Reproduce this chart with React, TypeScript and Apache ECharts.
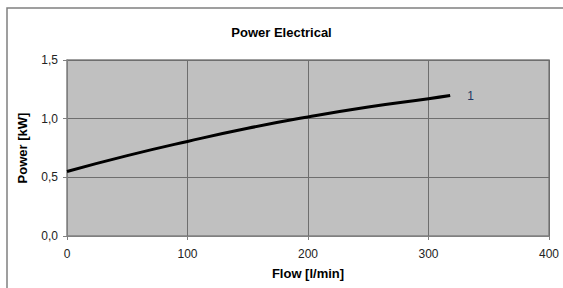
import React, { useEffect, useRef } from "react";
import * as echarts from "echarts";

const title = "Power Electrical";
const xName = "Flow [l/min]";
const yName = "Power [kW]";
const seriesName = "1";
const flow = [0, 50, 100, 150, 200, 250, 300, 318];
const power = [0.55, 0.685, 0.806, 0.918, 1.015, 1.1, 1.17, 1.197];

const FONT = "'Liberation Sans', Arial, sans-serif";

export default function App() {
  const ref = useRef<HTMLDivElement>(null);
  useEffect(() => {
    if (!ref.current) return;
    const chart = echarts.init(ref.current, undefined, { renderer: "svg" });
    chart.setOption({
      animation: false,
      backgroundColor: "#ffffff",
      textStyle: { fontFamily: FONT },
      title: {
        text: title,
        left: "center",
        top: 21,
        textStyle: { fontFamily: FONT, fontSize: 13, fontWeight: "bold", color: "#000" },
      },
      graphic: [
        {
          type: "rect",
          shape: { x: 7, y: 8, width: 620, height: 320 },
          style: { fill: "none", stroke: "#808080", lineWidth: 1.5 },
          silent: true,
        },
      ],
      grid: {
        left: 67,
        right: 14,
        top: 60,
        bottom: 52,
        show: true,
        backgroundColor: "#C0C0C0",
        borderColor: "#808080",
        borderWidth: 1.5,
      },
      xAxis: {
        type: "value",
        min: 0,
        max: 400,
        interval: 100,
        name: xName,
        nameLocation: "middle",
        nameGap: 31,
        nameTextStyle: { fontFamily: FONT, fontSize: 13, fontWeight: "bold", color: "#000" },
        axisLine: { show: true, lineStyle: { color: "#808080", width: 1 } },
        axisTick: { show: true, length: 4, lineStyle: { color: "#808080" } },
        axisLabel: { margin: 12, fontSize: 12, color: "#222", fontFamily: FONT },
        splitLine: { show: true, lineStyle: { color: "#6e6e6e", width: 1 } },
      },
      yAxis: {
        type: "value",
        min: 0,
        max: 1.5,
        interval: 0.5,
        name: yName,
        nameLocation: "middle",
        nameGap: 38,
        nameTextStyle: { fontFamily: FONT, fontSize: 13, fontWeight: "bold", color: "#000" },
        axisLine: { show: true, lineStyle: { color: "#808080", width: 1 } },
        axisTick: { show: true, length: 4, lineStyle: { color: "#808080" } },
        axisLabel: {
          margin: 9,
          fontSize: 12,
          color: "#222",
          fontFamily: FONT,
          formatter: (v: number) => v.toFixed(1).replace(".", ","),
        },
        splitLine: { show: true, lineStyle: { color: "#6e6e6e", width: 1 } },
      },
      series: [
        {
          name: seriesName,
          type: "line",
          smooth: true,
          showSymbol: false,
          data: flow.map((f, i) => [f, power[i]]),
          lineStyle: { color: "#000", width: 3 },
          endLabel: {
            show: true,
            formatter: seriesName,
            distance: 17,
            fontSize: 12,
            color: "#203864",
            fontFamily: FONT,
          },
        },
      ],
    });
    return () => chart.dispose();
  }, []);
  return (
    <div
      ref={ref}
      style={{ position: "fixed", left: 0, top: 0, width: 563, height: 288 }}
    />
  );
}
